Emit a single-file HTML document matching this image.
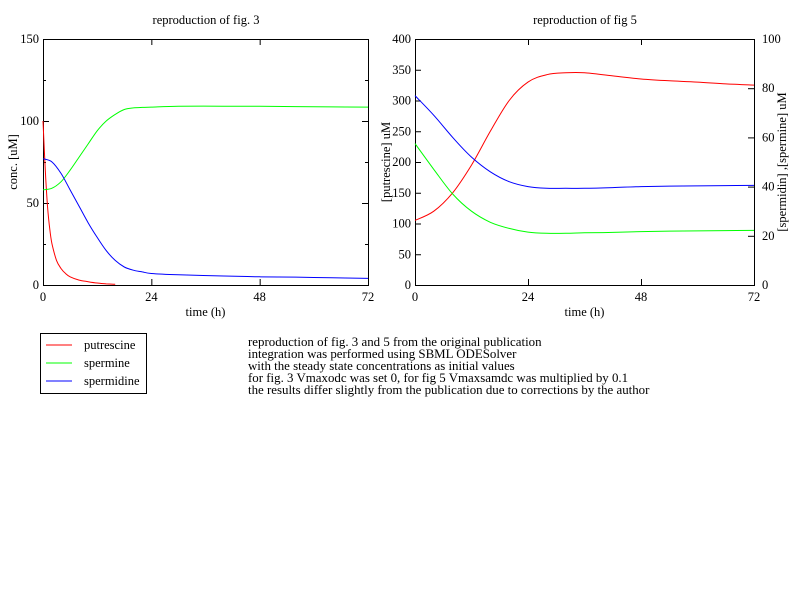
<!DOCTYPE html>
<html><head><meta charset="utf-8"><style>
body{margin:0;background:#fff;}
svg{display:block;font-family:"Liberation Serif",serif;font-size:12.5px;}
</style></head><body>
<svg id="s" width="792" height="612">
<rect width="792" height="612" fill="#fff"/>
<text x="206" y="24" text-anchor="middle">reproduction of fig. 3</text>
<text x="585" y="24" text-anchor="middle">reproduction of fig  5</text>
<g id="L"></g>
<g id="R"></g>
<g style="font-size:12.5px">
<rect x="40.5" y="333.5" width="106" height="60" fill="none" stroke="#000"/>
<line x1="46" y1="345" x2="72" y2="345" stroke="#f00"/>
<text x="84" y="349">putrescine</text>
<line x1="46" y1="363" x2="72" y2="363" stroke="#0f0"/>
<text x="84" y="367">spermine</text>
<line x1="46" y1="381" x2="72" y2="381" stroke="#00f"/>
<text x="84" y="385">spermidine</text>
</g>
<g style="font-size:12.9px">
<text x="248" y="346">reproduction of fig. 3 and 5 from the original publication</text>
<text x="248" y="358">integration was performed using SBML ODESolver</text>
<text x="248" y="370">with the steady state concentrations as initial values</text>
<text x="248" y="382">for fig. 3 Vmaxodc was set 0, for fig 5 Vmaxsamdc was multiplied by 0.1</text>
<text x="248" y="394">the results differ slightly from the publication due to corrections by the author</text>
</g>
</svg>
<script>
const ticksX=[0,24,48,72];
const leftTicksY=[0,50,100,150];
const rightTicksYL=[0,50,100,150,200,250,300,350,400];
const rightTicksYR=[0,20,40,60,80,100];
const f3PutT=[0,0.5,1,1.5,2,3,4,5,6,8,10,12,14,16];
const f3Put=[100,70,48,34,25,15,10,7,5,3,2,1.2,0.7,0.4];
const f3T=[0,2,4,6,8,10,12,14,16,18,20,22,24,30,40,48,56,64,72];
const f3Sperm=[58,59,63,70,78,86,94,100,104,107,108,108.3,108.5,109,109,109,108.8,108.6,108.5];
const f3Spd=[77,75,68,58,48,38,29,21,15,11,9,8,7,6.2,5.5,5,4.8,4.4,4];
const f5T=[0,4,8,12,16,20,24,28,32,36,42,48,54,60,66,72];
const f5Put=[105,120,150,195,250,300,330,342,345,345,340,335,332,330,327,325];
const f5Spd=[77,69,60,52,46,42,40,39.3,39.3,39.3,39.6,40,40.2,40.3,40.4,40.5];
const f5Sperm=[57.5,47,37,30,25.5,23,21.5,21,21,21.2,21.4,21.7,21.9,22,22.1,22.2];
const NS="http://www.w3.org/2000/svg";
function mk(p,tag,a,txt){const e=document.createElementNS(NS,tag);for(const k in a)e.setAttribute(k,a[k]);if(txt!==undefined)e.textContent=txt;p.appendChild(e);return e;}
function chart(g,x0,x1,y0,y1,ymaxL,ticksL,ymaxR,ticksR,minorL){
 const sx=v=>x0+(v/72)*(x1-x0);
 const syL=v=>y1-(v/ymaxL)*(y1-y0);
 const syR=ymaxR?(v=>y1-(v/ymaxR)*(y1-y0)):null;
 const fr=mk(g,'rect',{x:x0+.5,y:y0+.5,width:x1-x0,height:y1-y0,fill:'none',stroke:'#000'});
 
 
 ticksX.forEach(t=>{const x=sx(t)+.5;
  mk(g,'line',{x1:x,y1:y1,x2:x,y2:y1-6,stroke:'#000'});mk(g,'line',{x1:x,y1:y0,x2:x,y2:y0+6,stroke:'#000'});
  const tl=mk(g,'text',{x:sx(t),y:y1+16,'text-anchor':'middle'},t);
  
  });
 ticksL.forEach(v=>{const y=syL(v)+.5;
  mk(g,'line',{x1:x0,y1:y,x2:x0+6,y2:y,stroke:'#000'});
  if(!ymaxR)mk(g,'line',{x1:x1,y1:y,x2:x1-6,y2:y,stroke:'#000'});
  const tl=mk(g,'text',{x:x0-4,y:syL(v)+4,'text-anchor':'end'},v);
  
  });
 if(minorL)minorL.forEach(v=>{const y=syL(v)+.5;
  mk(g,'line',{x1:x0,y1:y,x2:x0+3,y2:y,stroke:'#000'});mk(g,'line',{x1:x1,y1:y,x2:x1-3,y2:y,stroke:'#000'});});
 if(ymaxR)ticksR.forEach(v=>{const y=syR(v)+.5;
  mk(g,'line',{x1:x1,y1:y,x2:x1-6,y2:y,stroke:'#000'});
  const tl=mk(g,'text',{x:x1+8,y:syR(v)+4},v);
  
  });
 const xt=mk(g,'text',{x:(x0+x1)/2,y:y1+31,'text-anchor':'middle'},'time (h)');
 
 
 return {sx,syL,syR};
}
function line(g,xs,ys,sx,sy,col,name){
 const P=xs.map((t,i)=>[sx(t),sy(ys[i])]);
 let d='M'+P[0][0].toFixed(1)+','+P[0][1].toFixed(1);
 for(let i=0;i<P.length-1;i++){
  const p0=P[Math.max(0,i-1)],p1=P[i],p2=P[i+1],p3=P[Math.min(P.length-1,i+2)];
  const c1=[p1[0]+(p2[0]-p0[0])/6,p1[1]+(p2[1]-p0[1])/6];
  const c2=[p2[0]-(p3[0]-p1[0])/6,p2[1]-(p3[1]-p1[1])/6];
  d+=' C'+c1.map(v=>v.toFixed(1)).join(',')+' '+c2.map(v=>v.toFixed(1)).join(',')+' '+p2.map(v=>v.toFixed(1)).join(',');
 }
 const p=mk(g,'path',{d:d,fill:'none',stroke:col,'stroke-width':1});
 
 
}
const L=document.getElementById('L'),R=document.getElementById('R');
const a=chart(L,43,368,39,285,150,leftTicksY,null,null,[25,75,125]);
const yl=mk(L,'text',{x:17,y:162,'text-anchor':'middle',transform:'rotate(-90 17 162)'},'conc. [uM]');

line(L,f3PutT,f3Put,a.sx,a.syL,'#f00','putrescine-line');
line(L,f3T,f3Sperm,a.sx,a.syL,'#0f0','spermine-line');
line(L,f3T,f3Spd,a.sx,a.syL,'#00f','spermidine-line');
const b=chart(R,415,754,39,285,400,rightTicksYL,100,rightTicksYR,null);
const y2=mk(R,'text',{x:390,y:162,'text-anchor':'middle',transform:'rotate(-90 390 162)'},'[putrescine]  uM');

const y3=mk(R,'text',{x:786,y:162,'text-anchor':'middle',transform:'rotate(-90 786 162)'},'[spermidin] ,[spermine] uM');

line(R,f5T,f5Put,b.sx,b.syL,'#f00','putrescine-line');
line(R,f5T,f5Sperm,b.sx,b.syR,'#0f0','spermine-line');
line(R,f5T,f5Spd,b.sx,b.syR,'#00f','spermidine-line');
</script>
</body></html>
